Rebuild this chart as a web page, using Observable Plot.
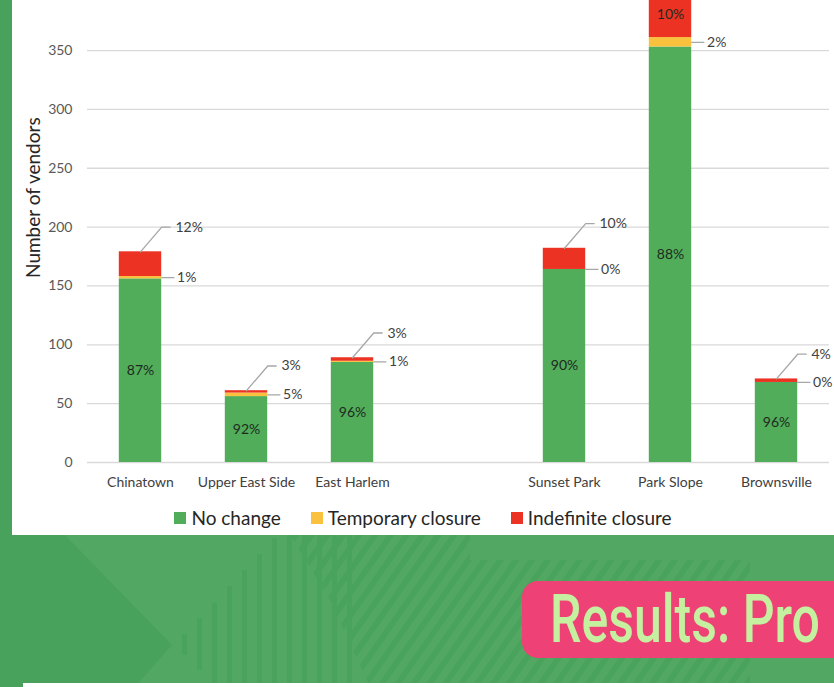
<!DOCTYPE html>
<html>
<head>
<meta charset="utf-8">
<script src="https://cdn.jsdelivr.net/npm/d3@7"></script>
<script src="https://cdn.jsdelivr.net/npm/@observablehq/plot@0.6"></script>
<style>
  html, body { margin: 0; padding: 0; }
  body { width: 834px; height: 687px; overflow: hidden; position: relative; background: #52a862; font-family: Lato, "Open Sans", sans-serif; }
  #bg { position: absolute; left: 0; top: 0; }
  #panel { position: absolute; left: 12px; top: 0; width: 822px; height: 535px; background: #fff; }
  #chart { position: absolute; left: 0; top: 0; }
  #legend { position: absolute; left: 12px; width: 822px; top: 506px; display: flex; justify-content: center; gap: 30px; font-size: 19px; color: #262626; }
  #legend .item { display: flex; align-items: center; gap: 5px; }
  #legend .sw { width: 12px; height: 12px; display: inline-block; }
  #banner { position: absolute; left: 522px; top: 581px; width: 360px; height: 77px; border-radius: 16px; background: #ee4276; overflow: hidden; }
  #banner span { position: absolute; left: 28px; top: 0px; font-family: Roboto, "Open Sans", sans-serif; font-weight: 500; font-size: 66px; line-height: 77px; color: #c5f0a0; white-space: nowrap; transform-origin: 0 50%; }
  #foot { position: absolute; left: 23px; top: 683px; width: 811px; height: 10px; background: #fff; }
</style>
</head>
<body>
<svg id="bg" width="834" height="687">
  <defs>
    <pattern id="hatch" width="13" height="13" patternUnits="userSpaceOnUse" patternTransform="rotate(35)">
      <rect width="6" height="13" fill="#4aa35c"/>
    </pattern>
  </defs>
  <rect width="834" height="687" fill="#52a862"/>
  <polygon points="0,0 12,0 12,535 65,535 172,645 135,687 0,687" fill="#49a25b"/>
  <polygon points="290,535 470,535 470,560 750,560 750,687 370,687 330,600" fill="url(#hatch)"/>
  <g id="stripes" fill="#4aa35c"></g>
</svg>
<div id="panel"></div>
<div id="chart"></div>
<div id="legend"></div>
<div id="banner"><span id="bannerText">Results: Pro</span></div>
<div id="foot"></div>
<script>
// ---- data ----
const categories = ["Chinatown", "Upper East Side", "East Harlem", "", "Sunset Park", "Park Slope", "Brownsville"];
const noChange   = [156, 56, 85, null, 164, 353, 68];
const temporary  = [2, 3, 1, null, 0, 8, 0];
const indefinite = [21, 2, 3, null, 18, 40, 3];
const seriesNames = ["No change", "Temporary closure", "Indefinite closure"];
const seriesColors = ["#52ad5b", "#f9c13d", "#ec3323"];
const yTicks = [0, 50, 100, 150, 200, 250, 300, 350];
const yLabel = "Number of vendors";

// ---- decorative stripes (background) ----
const sg = d3.select("#stripes");
for (let x = 182; x <= 350; x += 15) {
  const top = Math.max(535, 645 - (x - 172) * (110 / 103));
  const bottom = Math.min(687, 645 + (x - 172) * (42 / 43));
  sg.append("rect").attr("x", x).attr("y", top).attr("width", 5).attr("height", Math.max(0, bottom - top));
}

// ---- derived rows ----
const half = 0.2;
const segs = [], inner = [], callTxt = [], callLines = [];
categories.forEach((c, i) => {
  if (noChange[i] == null) return;
  const vals = [noChange[i], temporary[i], indefinite[i]];
  const total = vals[0] + vals[1] + vals[2];
  const pct = v => Math.round(v / total * 100) + "%";
  let acc = 0;
  vals.forEach((v, k) => {
    segs.push({i, series: seriesNames[k], y1: acc, y2: acc + v});
    acc += v;
  });
  inner.push({x: i, y: vals[0] / 2, t: pct(vals[0])});
  const ty = vals[0] + vals[1] / 2;
  callLines.push({id: c + "t", x: i + half, y: ty}, {id: c + "t", x: i + half + 0.115, y: ty});
  callTxt.push({x: i + half + 0.145, y: ty, t: pct(vals[1])});
  if (vals[2] >= 30) {
    inner.push({x: i, y: vals[0] + vals[1] + vals[2] / 2, t: pct(vals[2])});
  } else {
    const top = total, ey = total + 21;
    callLines.push({id: c + "i", x: i, y: top}, {id: c + "i", x: i + 0.2, y: ey}, {id: c + "i", x: i + 0.28, y: ey});
    callTxt.push({x: i + 0.33, y: ey, t: pct(vals[2])});
  }
});

const plot = Plot.plot({
  width: 834, height: 500,
  marginLeft: 87, marginRight: 5, marginTop: 0, marginBottom: 38,
  style: {background: "transparent", fontFamily: "Lato, 'Open Sans', sans-serif", fontSize: "14px", color: "#595959", overflow: "visible"},
  x: {domain: [-0.5, 6.5], ticks: categories.map((c, i) => i).filter(i => categories[i] !== ""), tickFormat: i => categories[i], tickSize: 0, tickPadding: 15, label: null},
  y: {domain: [0, 392.5], ticks: yTicks, tickSize: 0, tickPadding: 15, label: null},
  color: {domain: seriesNames, range: seriesColors},
  marks: [
    Plot.ruleY(yTicks, {stroke: "#d9d9d9", strokeWidth: 1.3}),
    Plot.rect(segs, {x1: d => d.i - half, x2: d => d.i + half, y1: "y1", y2: "y2", fill: "series"}),
    Plot.text(inner, {x: "x", y: "y", text: "t", fill: "#1e2a1e", fontSize: 14}),
    Plot.line(callLines, {x: "x", y: "y", z: "id", stroke: "#a6a6a6", strokeWidth: 1.3}),
    Plot.text(callTxt, {x: "x", y: "y", text: "t", textAnchor: "start", fill: "#404040", fontSize: 14}),
    Plot.text([yLabel], {x: -0.5, y: 225, dx: -54, rotate: -90, fill: "#262626", fontSize: 19})
  ]
});
document.getElementById("chart").appendChild(plot);
d3.select(plot).selectAll("g[aria-label='x-axis tick label'] text").attr("fill", "#404040");

// ---- legend ----
const lg = d3.select("#legend");
seriesNames.forEach((n, k) => {
  const it = lg.append("div").attr("class", "item");
  it.append("span").attr("class", "sw").style("background", seriesColors[k]);
  it.append("span").text(n);
});

// ---- banner text fit to condensed look ----
const bt = document.getElementById("bannerText");
const w = bt.getBoundingClientRect().width;
bt.style.transform = `scaleX(${(270 / w).toFixed(3)})`;
</script>
</body>
</html>
